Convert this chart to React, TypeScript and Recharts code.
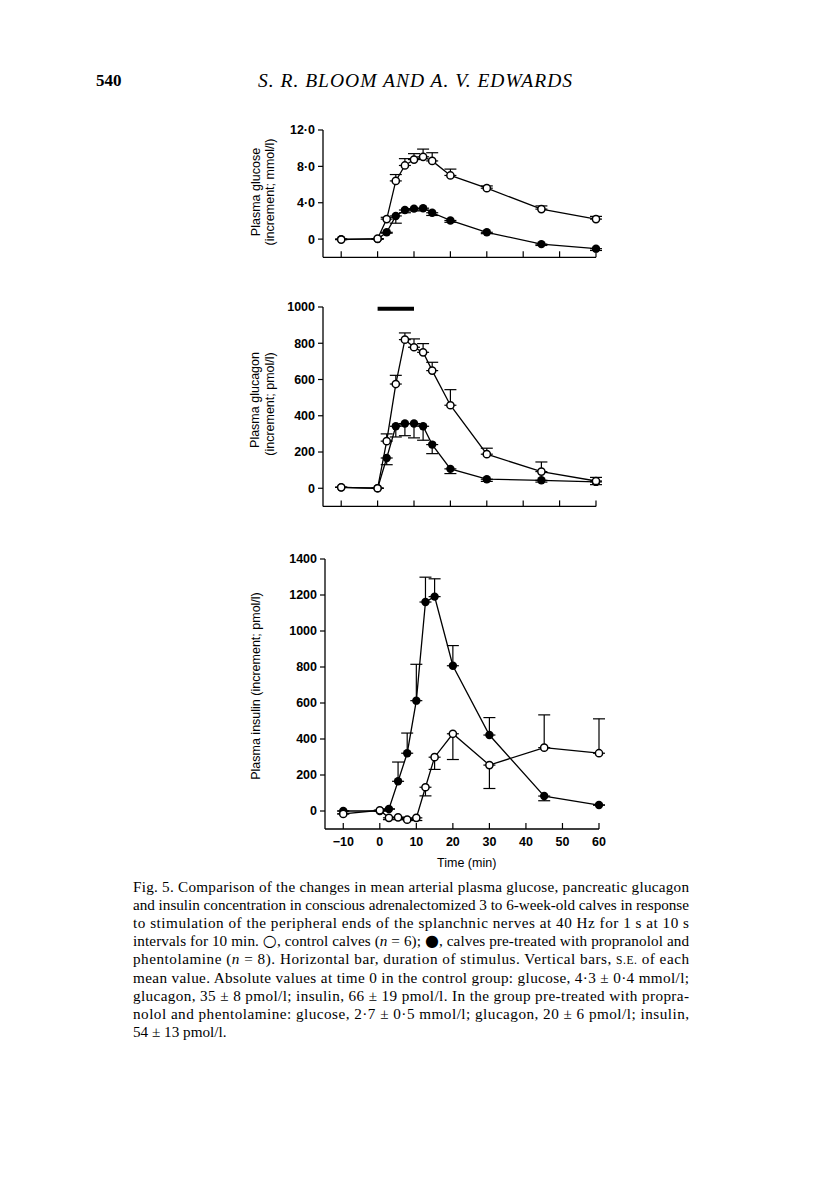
import React from "react";
import { LineChart, Line, XAxis, YAxis, ErrorBar, ReferenceLine } from "recharts";

const times = [-10, 0, 2.5, 5, 7.5, 10, 12.5, 15, 20, 30, 45, 60];
const xTicks = [-10, 0, 10, 20, 30, 40, 50, 60];
const xLabels = ["\u221210", "0", "10", "20", "30", "40", "50", "60"];

// glucose increment (mmol/l); control s.e. upward, treated s.e. downward
const glucoseControl = [-0.05, 0.05, 2.2, 6.4, 8.1, 8.75, 9.05, 8.6, 7.0, 5.6, 3.3, 2.2];
const glucoseControlSE = [0, 0, 0.2, 0.7, 0.75, 0.65, 0.85, 0.9, 0.7, 0.25, 0.35, 0.3];
const glucoseTreated = [0, 0, 0.75, 2.55, 3.2, 3.35, 3.4, 2.9, 2.05, 0.75, -0.55, -1.05];
const glucoseTreatedSE = [0, 0, 0.1, 0.8, 0.3, 0.25, 0.2, 0.3, 0.2, 0.15, 0.15, 0.2];
const glucoseTicks = [0, 4, 8, 12];

// glucagon increment (pmol/l)
const glucagonControl = [5, 0, 260, 575, 820, 778, 750, 649, 458, 188, 92, 40];
const glucagonControlSE = [0, 0, 40, 48, 37, 46, 48, 46, 86, 33, 53, 20];
const glucagonTreated = [5, 0, 167, 342, 357, 357, 342, 241, 107, 50, 44, 35];
const glucagonTreatedSE = [0, 0, 37, 59, 67, 79, 77, 50, 26, 12, 10, 15];
const glucagonTicks = [0, 200, 400, 600, 800, 1000];
const stimulus = [0, 10];
const stimulusLevel = 990;

// insulin increment (pmol/l); s.e. as [below, above]
const insulinControl = [-16, 4, -38, -35, -48, -38, 132, 299, 429, 255, 352, 321];
const insulinControlSE = [[0, 0], [0, 0], [10, 0], [0, 0], [0, 0], [15, 0], [48, 0], [68, 0], [143, 0], [130, 0], [0, 182], [0, 191]];
const insulinTreated = [0, 0, 11, 165, 321, 613, 1161, 1191, 807, 422, 83, 33];
const insulinTreatedSE = [[0, 0], [0, 0], [0, 0], [0, 107], [0, 112], [0, 202], [0, 138], [0, 99], [0, 112], [0, 97], [26, 0], [0, 0]];
const insulinTicks = [0, 200, 400, 600, 800, 1000, 1200, 1400];

// _x_ = italic, ^x^ = small caps, ~x~ = symbol
const captionLines = [
  "Fig. 5. Comparison of the changes in mean arterial plasma glucose, pancreatic glucagon",
  "and insulin concentration in conscious adrenalectomized 3 to 6-week-old calves in response",
  "to stimulation of the peripheral ends of the splanchnic nerves at 40 Hz for 1 s at 10 s",
  "intervals for 10 min. ~\u25CB~, control calves (_n_ = 6); ~\u25CF~, calves pre-treated with propranolol and",
  "phentolamine (_n_ = 8). Horizontal bar, duration of stimulus. Vertical bars, ^S.E.^ of each",
  "mean value. Absolute values at time 0 in the control group: glucose, 4\u00B73 \u00B1 0\u00B74 mmol/l;",
  "glucagon, 35 \u00B1 8 pmol/l; insulin, 66 \u00B1 19 pmol/l. In the group pre-treated with propra-",
  "nolol and phentolamine: glucose, 2\u00B77 \u00B1 0\u00B75 mmol/l; glucagon, 20 \u00B1 6 pmol/l; insulin,",
  "54 \u00B1 13 pmol/l.",
];

const SANS = "'Liberation Sans', Arial, sans-serif";
const SERIF = "'Liberation Serif', 'Times New Roman', serif";

const up = (se: number[]) => se.map((v) => [0, v]);
const down = (se: number[]) => se.map((v) => [v, 0]);

const rows = (control: number[], controlErr: number[][], treated: number[], treatedErr: number[][]) =>
  times.map((t, i) => ({
    t,
    control: control[i],
    controlErr: controlErr[i],
    treated: treated[i],
    treatedErr: treatedErr[i],
  }));

const glucoseData = rows(glucoseControl, up(glucoseControlSE), glucoseTreated, down(glucoseTreatedSE));
const glucagonData = rows(glucagonControl, up(glucagonControlSE), glucagonTreated, down(glucagonTreatedSE));
const insulinData = rows(insulinControl, insulinControlSE, insulinTreated, insulinTreatedSE);

const openDot = (p: any) => (
  <circle key={`o-${p.index}`} cx={p.cx} cy={p.cy} r={3.6} fill="#fff" stroke="#000" strokeWidth={1.5} />
);
const filledDot = (p: any) => (
  <circle key={`f-${p.index}`} cx={p.cx} cy={p.cy} r={4.2} fill="#000" stroke="none" />
);

const xTick = (labelled: boolean) => (p: any) => (
  <g key={`xt-${p.index}`}>
    <line x1={p.x} x2={p.x} y1={p.y} y2={p.y - 6} stroke="#000" strokeWidth={1.2} />
    {labelled && (
      <text x={p.x} y={p.y + 17} textAnchor="middle" fill="#000" fontSize={12.5} fontWeight={700} fontFamily={SANS}>
        {xLabels[xTicks.indexOf(p.payload.value)]}
      </text>
    )}
  </g>
);

function Panel(props: {
  left: number;
  top: number;
  width: number;
  height: number;
  xHeight: number;
  data: any[];
  domain: number[];
  ticks: number[];
  fmt: (v: number) => string;
  labelled?: boolean;
  showBar?: boolean;
}) {
  const { left, top, width, height, xHeight, data, domain, ticks, fmt, labelled, showBar } = props;
  return (
    <div style={{ position: "absolute", left, top }}>
      <LineChart width={width} height={height} data={data} margin={{ top: 10, right: 16, bottom: 0, left: 0 }}>
        <XAxis
          type="number"
          dataKey="t"
          domain={[-15, 60]}
          ticks={xTicks}
          tickLine={false}
          tickSize={0}
          tickMargin={0}
          tick={xTick(!!labelled)}
          axisLine={{ stroke: "#000", strokeWidth: 1.3 }}
          height={xHeight}
        />
        <YAxis
          type="number"
          domain={domain}
          ticks={ticks}
          width={61}
          tickSize={5}
          tickMargin={3}
          tickFormatter={fmt}
          tickLine={{ stroke: "#000", strokeWidth: 1.2 }}
          axisLine={{ stroke: "#000", strokeWidth: 1.3 }}
          tick={{ fill: "#000", fontSize: 12.5, fontWeight: 700, fontFamily: SANS }}
        />
        {showBar && (
          <ReferenceLine
            segment={[
              { x: stimulus[0], y: stimulusLevel },
              { x: stimulus[1], y: stimulusLevel },
            ]}
            stroke="#000"
            strokeWidth={4}
            ifOverflow="visible"
          />
        )}
        <Line
          type="linear"
          dataKey="treated"
          stroke="#000"
          strokeWidth={1.3}
          dot={filledDot}
          activeDot={false}
          isAnimationActive={false}
        >
          <ErrorBar dataKey="treatedErr" direction="y" width={6} stroke="#000" strokeWidth={1.2} />
        </Line>
        <Line
          type="linear"
          dataKey="control"
          stroke="#000"
          strokeWidth={1.3}
          dot={openDot}
          activeDot={false}
          isAnimationActive={false}
        >
          <ErrorBar dataKey="controlErr" direction="y" width={6} stroke="#000" strokeWidth={1.2} />
        </Line>
      </LineChart>
    </div>
  );
}

const fmtGlucose = (v: number) => (v === 0 ? "0" : v.toFixed(1).replace(".", "\u00B7"));
const fmtInt = (v: number) => String(v);

const yTitle = (x: number, y: number, text: string) => (
  <text
    key={text}
    x={x}
    y={y}
    transform={`rotate(-90 ${x} ${y})`}
    textAnchor="middle"
    dominantBaseline="central"
    fontFamily={SANS}
    fontSize={12.5}
    fill="#000"
  >
    {text}
  </text>
);

// split a caption line into styled pieces
const captionSpans = (line: string) =>
  line.split(/([_^~][^_^~]+[_^~])/).map((part, j) => {
    const mark = part[0];
    if ((mark === "_" || mark === "^" || mark === "~") && part.length > 2 && part[part.length - 1] === mark) {
      const inner = part.slice(1, -1);
      if (mark === "_") return <tspan key={j} fontStyle="italic">{inner}</tspan>;
      if (mark === "^") return <tspan key={j} fontSize={11.5}>{inner}</tspan>;
      return <tspan key={j} fontSize={16} fontFamily="'DejaVu Sans', sans-serif">{inner}</tspan>;
    }
    return <tspan key={j}>{part}</tspan>;
  });

export default function App() {
  return (
    <div style={{ position: "absolute", left: 0, top: 0, width: 816, height: 1181, background: "#fff" }}>
      <svg width={816} height={1181} style={{ position: "absolute", left: 0, top: 0 }}>
        <text x={96} y={86} fontFamily={SERIF} fontWeight={700} fontSize={17} fill="#000">
          540
        </text>
        <text x={258} y={87} fontFamily={SERIF} fontStyle="italic" fontSize={19.5} fill="#000" textLength={314} lengthAdjust="spacing">
          S. R. BLOOM AND A. V. EDWARDS
        </text>
        {yTitle(256, 192, "Plasma glucose")}
        {yTitle(269.5, 192, "(increment; mmol/l)")}
        {yTitle(255, 400, "Plasma glucagon")}
        {yTitle(269.5, 404, "(increment; pmol/l)")}
        {yTitle(256, 686, "Plasma insulin (increment; pmol/l)")}
        <text x={466.7} y={867} textAnchor="middle" fontFamily={SANS} fontSize={12.5} fill="#000">
          Time (min)
        </text>
        {captionLines.map((line, i) => (
          <text
            key={i}
            x={133}
            y={892 + i * 18.1}
            fontFamily={SERIF}
            fontSize={15.2}
            fill="#000"
            {...(i < captionLines.length - 1 ? { textLength: 556, lengthAdjust: "spacing" } : {})}
          >
            {captionSpans(line)}
          </text>
        ))}
      </svg>
      <Panel
        left={262}
        top={120}
        width={350}
        height={157.3}
        xHeight={20}
        data={glucoseData}
        domain={[-2, 12]}
        ticks={glucoseTicks}
        fmt={fmtGlucose}
      />
      <Panel
        left={262}
        top={297.3}
        width={350}
        height={229.4}
        xHeight={20}
        data={glucagonData}
        domain={[-100, 1000]}
        ticks={glucagonTicks}
        fmt={fmtInt}
        showBar
      />
      <Panel
        left={264}
        top={549.3}
        width={351}
        height={320}
        xHeight={40}
        data={insulinData}
        domain={[-100, 1400]}
        ticks={insulinTicks}
        fmt={fmtInt}
        labelled
      />
    </div>
  );
}
